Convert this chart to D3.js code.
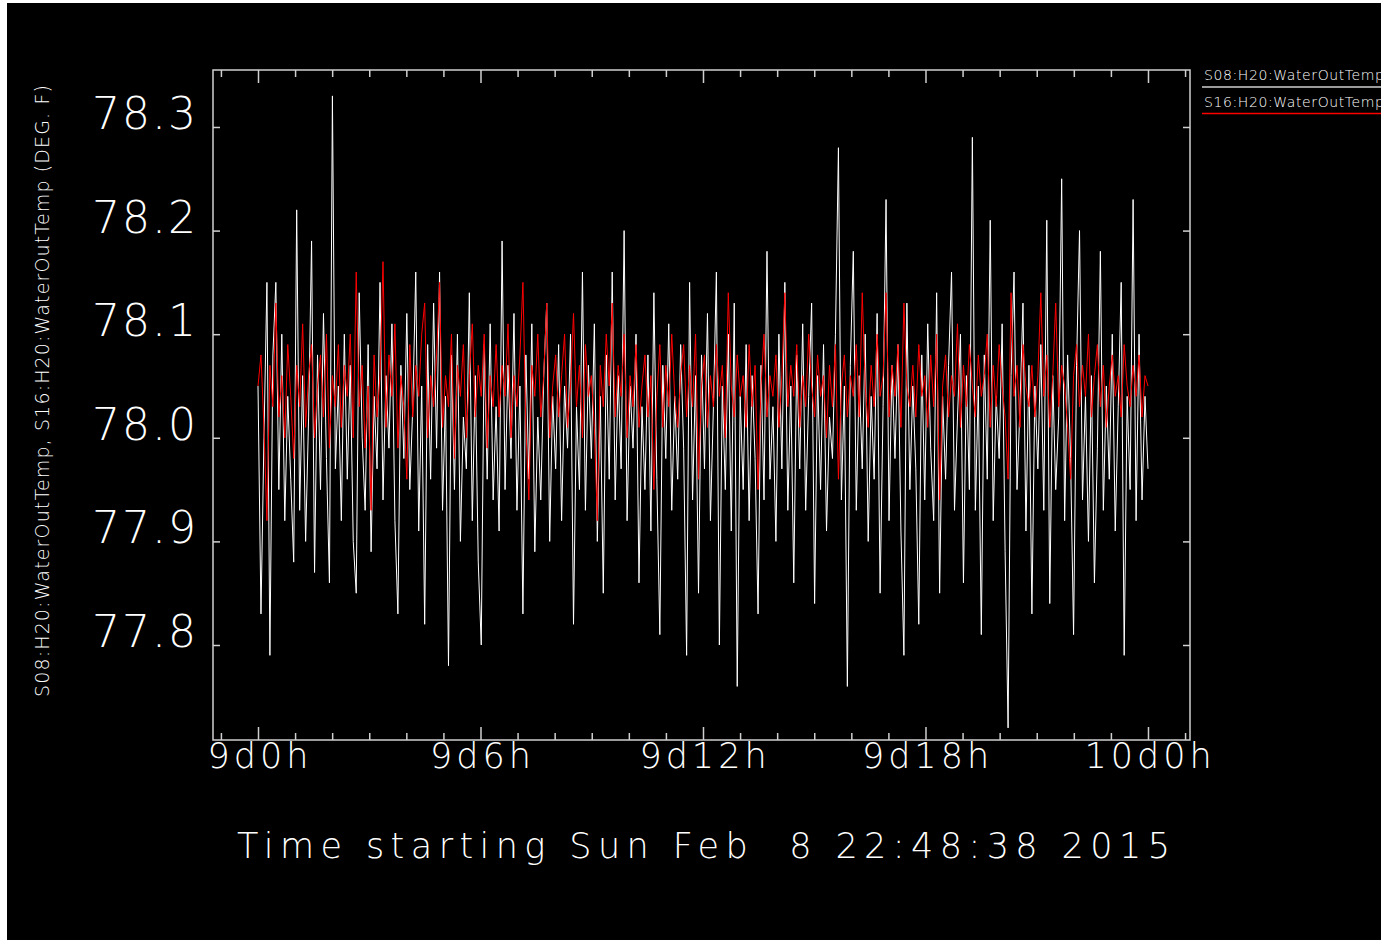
<!DOCTYPE html>
<html>
<head>
<meta charset="utf-8">
<script src="https://cdn.jsdelivr.net/npm/d3@7"></script>
<style>
  html, body { margin: 0; padding: 0; background: #ffffff; }
  svg { display: block; }
  text { font-family: "DejaVu Sans", sans-serif; font-weight: 200; fill: #ffffff; white-space: pre; }
</style>
</head>
<body>
<svg id="chart" width="1381" height="940"></svg>
<script>
// ---------------- data ----------------
const seriesNames = ["S08:H20:WaterOutTemp", "S16:H20:WaterOutTemp"];
const xTickHours = [0, 6, 12, 18, 24];
const xTickLabels = ["9d0h", "9d6h", "9d12h", "9d18h", "10d0h"];
const yTickValues = [77.8, 77.9, 78.0, 78.1, 78.2, 78.3];
const yTickLabels = ["77.8", "77.9", "78.0", "78.1", "78.2", "78.3"];
const titleText = "Time starting Sun Feb  8 22:48:38 2015";
const yLabelText = "S08:H20:WaterOutTemp, S16:H20:WaterOutTemp (DEG. F)";
const spanHours = 24;

// S08 (white)
const s08Values = [
  78.05,77.83,78.00,78.15,77.79,78.08,78.15,77.95,78.10,77.92,78.04,77.96,77.88,78.22,77.93,78.06,77.90,78.02,78.19,77.87,
  78.08,77.95,78.12,77.98,77.86,78.33,77.97,78.05,77.92,78.10,77.96,78.07,77.90,77.85,78.14,78.00,77.93,78.09,77.89,78.04,
  77.97,78.15,77.94,78.06,77.99,78.11,77.92,77.83,78.07,77.98,78.12,77.95,78.03,78.16,77.91,78.05,77.82,78.09,77.96,78.13,
  77.99,78.16,77.93,78.04,77.78,78.08,77.95,78.10,77.90,78.02,77.97,78.14,77.92,78.06,77.88,77.80,78.09,77.96,78.11,77.94,
  78.03,77.91,78.19,77.95,78.07,77.98,78.12,77.93,78.05,77.83,78.08,77.96,78.11,77.89,78.02,77.94,78.06,78.13,77.90,78.04,
  77.97,78.09,77.92,78.05,77.99,78.10,77.82,78.03,77.95,78.16,77.93,78.07,77.98,78.11,77.90,78.04,77.85,78.08,77.96,78.16,
  77.94,78.06,77.97,78.20,77.92,78.05,77.99,78.10,77.86,78.03,77.95,78.08,77.91,78.14,77.96,77.81,78.07,77.98,78.11,77.93,
  78.04,77.96,78.09,77.99,77.79,78.15,77.94,78.06,77.85,78.08,77.97,78.12,77.92,78.03,78.16,77.80,78.05,77.95,78.10,77.91,
  78.13,77.76,78.04,77.95,78.09,77.92,78.06,77.98,77.83,78.07,77.94,78.18,77.96,78.03,77.90,78.10,77.97,78.15,77.93,78.05,
  77.86,78.08,77.97,78.11,77.93,78.04,78.13,77.84,78.06,77.95,78.09,77.91,78.02,77.98,78.10,78.28,77.94,78.05,77.76,78.07,
  78.18,77.93,78.06,77.97,78.10,77.90,78.04,77.96,78.12,77.85,78.03,78.23,77.92,78.07,77.98,78.09,77.91,77.79,78.13,77.95,
  78.05,77.97,77.82,78.08,77.94,78.11,77.99,77.92,78.14,77.85,78.04,77.96,78.07,78.16,77.93,78.02,78.10,77.86,78.06,77.95,
  78.29,77.93,78.05,77.81,78.08,77.96,78.21,77.92,78.04,77.98,78.11,77.89,77.72,78.06,78.16,77.95,78.03,78.13,77.91,78.07,
  77.83,78.05,77.97,78.09,77.93,78.21,77.84,78.06,77.95,78.02,78.25,77.92,78.08,77.98,77.81,78.07,78.20,77.94,78.04,77.90,
  78.06,77.86,77.99,78.18,77.93,78.05,77.96,78.10,77.91,78.03,78.15,77.79,78.04,77.95,78.23,77.92,78.10,77.94,78.04,77.97
];

// S16 (red)
const s16Values = [
  78.05,78.08,78.01,77.92,78.07,78.03,78.13,78.02,78.06,78.00,78.09,78.04,77.98,78.07,78.03,78.11,78.01,78.06,78.09,78.00,
  78.05,78.08,78.02,78.10,77.99,78.06,78.03,78.09,78.01,78.07,78.04,78.10,78.00,78.16,78.03,78.07,77.99,78.05,77.93,78.08,
  78.02,78.06,78.17,78.01,78.08,78.04,78.11,77.99,78.06,78.03,77.96,78.09,78.02,78.07,78.04,78.10,78.13,78.00,78.06,78.03,
  78.08,78.15,78.01,78.06,78.03,78.10,77.98,78.07,78.04,78.09,78.00,78.06,78.11,78.02,78.07,78.04,78.10,77.99,78.06,78.03,
  78.09,78.02,78.07,78.04,78.11,78.00,78.06,78.03,78.08,78.15,78.01,77.94,78.07,78.04,78.10,78.02,78.06,78.13,78.00,78.05,
  78.08,78.02,78.06,78.10,78.01,78.05,78.12,78.03,78.07,78.00,78.09,78.04,78.06,78.01,77.92,78.07,78.03,78.10,78.05,78.13,
  78.02,78.07,78.04,78.10,78.00,78.06,78.03,78.09,78.01,78.05,78.08,78.02,78.06,77.95,78.04,78.09,78.01,78.07,78.03,78.10,
  78.04,78.01,78.06,78.09,78.02,78.07,78.03,78.10,77.96,78.05,78.08,78.01,78.06,78.03,78.09,78.04,78.07,78.00,78.14,78.05,
  78.02,78.08,78.04,78.06,78.01,78.09,78.03,78.07,77.95,78.05,78.10,78.02,78.06,78.04,78.08,78.01,78.06,78.14,78.03,78.07,
  78.04,78.09,78.01,78.06,78.03,78.10,78.05,78.02,78.08,78.04,78.06,78.00,78.07,78.03,78.09,77.96,78.05,78.08,78.02,78.06,
  78.04,78.09,78.02,78.14,78.05,78.01,78.07,78.03,78.10,78.04,78.06,78.14,78.02,78.07,78.04,78.09,78.01,78.13,78.05,78.03,
  78.07,78.02,78.09,78.04,78.06,78.01,78.08,78.03,78.10,77.94,78.05,78.08,78.02,78.06,78.04,78.11,78.01,78.07,78.03,78.09,
  78.05,78.02,78.08,78.04,78.06,78.10,78.01,78.07,78.03,78.09,78.05,78.02,77.96,78.14,78.04,78.07,78.01,78.09,78.05,78.03,
  78.07,78.02,78.06,78.14,78.04,78.08,78.01,78.06,78.13,78.03,78.07,78.05,78.01,77.96,78.06,78.09,78.03,78.07,78.04,78.10,
  78.02,78.06,78.09,78.03,78.07,78.01,78.05,78.08,78.04,78.06,78.02,78.09,78.05,78.03,78.07,78.04,78.08,78.02,78.06,78.05
];

// ---------------- drawing ----------------
const svg = d3.select("#chart");
const W = 1381, H = 940;
const plot = { left: 213, right: 1190, top: 70, bottom: 740 };
const frameColor = "#cfcfcf";

// black canvas (reference has a thin white edge on left/top)
svg.append("rect").attr("x", 7).attr("y", 3).attr("width", W - 7).attr("height", H - 3).attr("fill", "#000");

const x = d3.scaleLinear().domain([-1.2135, 25.133]).range([plot.left, plot.right]);
const y = d3.scaleLinear().domain([77.7083, 78.355]).range([plot.bottom, plot.top]);

// frame
svg.append("rect")
  .attr("x", plot.left).attr("y", plot.top)
  .attr("width", plot.right - plot.left).attr("height", plot.bottom - plot.top)
  .attr("fill", "none").attr("stroke", frameColor).attr("stroke-width", 1.5);

// x ticks (every hour, long every 6 h)
const hourTicks = d3.range(-1, 26);
const minorHours = hourTicks.filter(h => h % 6 !== 0);
function xAxis(gen, ty, size, vals) {
  const g = svg.append("g").attr("transform", `translate(0,${ty})`)
    .call(gen(x).tickValues(vals).tickSize(size).tickFormat(""));
  g.select(".domain").remove();
  g.selectAll(".tick line").attr("stroke", frameColor).attr("stroke-width", 1.5);
}
xAxis(d3.axisBottom, plot.bottom, -7, minorHours);
xAxis(d3.axisBottom, plot.bottom, -13, xTickHours);
xAxis(d3.axisTop, plot.top, -7, minorHours);
xAxis(d3.axisTop, plot.top, -13, xTickHours);

function yAxis(gen, tx, size) {
  const g = svg.append("g").attr("transform", `translate(${tx},0)`)
    .call(gen(y).tickValues(yTickValues).tickSize(size).tickFormat(""));
  g.select(".domain").remove();
  g.selectAll(".tick line").attr("stroke", frameColor).attr("stroke-width", 1.5);
}
yAxis(d3.axisLeft, plot.left, -7);
yAxis(d3.axisRight, plot.right, -7);

// y tick labels
svg.append("g").selectAll("text").data(yTickValues).join("text")
  .attr("x", 198).attr("y", d => y(d) + 2)
  .attr("text-anchor", "end")
  .attr("font-size", 44)
  .attr("letter-spacing", 2)
  .text((d, i) => yTickLabels[i]);

// x tick labels
svg.append("g").selectAll("text").data(xTickHours).join("text")
  .attr("x", d => x(d) + 2).attr("y", 768)
  .attr("text-anchor", "middle")
  .attr("font-size", 35)
  .attr("letter-spacing", 4)
  .text((d, i) => xTickLabels[i]);

// title
svg.append("text")
  .attr("x", 237).attr("y", 858)
  .attr("font-size", 35)
  .attr("textLength", 933).attr("lengthAdjust", "spacing")
  .text(titleText);

// y label
svg.append("text")
  .attr("transform", "translate(49,391) rotate(-90)")
  .attr("text-anchor", "middle")
  .attr("font-size", 19)
  .attr("textLength", 612).attr("lengthAdjust", "spacing")
  .text(yLabelText);

// series
const hoursOf = arr => arr.map((_, i) => i * spanHours / (arr.length - 1));
const line = d3.line().x(d => x(d[0])).y(d => y(d[1]));
const series = [
  { values: s08Values, color: "#ffffff" },
  { values: s16Values, color: "#ff0000" }
];
series.forEach(s => {
  const hrs = hoursOf(s.values);
  svg.append("path")
    .datum(s.values.map((v, i) => [hrs[i], v]))
    .attr("fill", "none").attr("stroke", s.color).attr("stroke-width", 1)
    .attr("d", line);
});

// legend
const legend = svg.append("g");
seriesNames.forEach((name, i) => {
  legend.append("text")
    .attr("x", 1204).attr("y", 80 + i * 27)
    .attr("font-size", 14).attr("font-weight", 400)
    .attr("letter-spacing", 0.6)
    .text(name);
  legend.append("line")
    .attr("x1", 1202).attr("x2", W)
    .attr("y1", 87 + i * 26.5).attr("y2", 87 + i * 26.5)
    .attr("stroke", i === 0 ? "#cfcfcf" : "#ff0000").attr("stroke-width", 1.5);
});
</script>
</body>
</html>
